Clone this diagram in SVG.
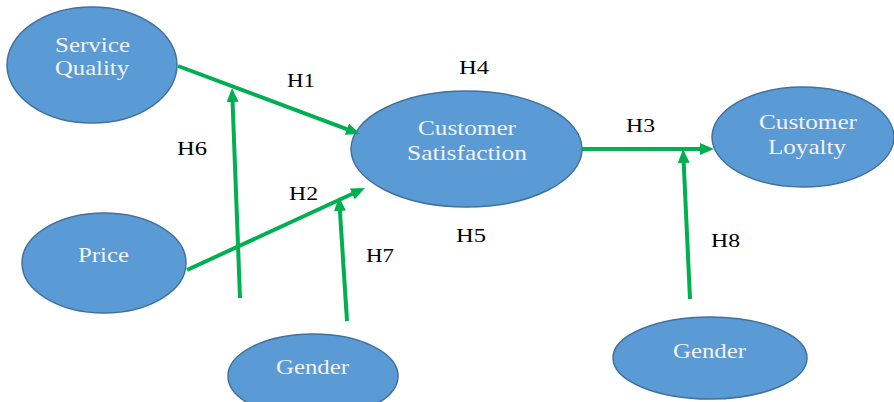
<svg xmlns="http://www.w3.org/2000/svg" width="894" height="402" viewBox="0 0 894 402">
<style>
.node ellipse{fill:#5B9BD5;stroke:#41719C;stroke-width:1.5}
.node text{fill:#F2F2F2;font-family:"Liberation Serif","Times New Roman",serif;font-size:21px;text-anchor:middle}
.lbl{fill:#000;font-family:"Liberation Serif","Times New Roman",serif;font-size:19px}
.conn line{stroke:#00B050;stroke-width:4;marker-end:url(#ah)}
</style>
<defs>
<marker id="ah" markerUnits="userSpaceOnUse" markerWidth="14" markerHeight="12" refX="2" refY="6" orient="auto">
<path d="M0,0 L14,6 L0,12 z" fill="#00B050"/>
</marker>
</defs>
<rect width="894" height="402" fill="#fff"/>
<g id="n-service-quality" class="node">
<ellipse cx="92" cy="65" rx="85" ry="58"/>
<text x="92.5" y="52" textLength="75" lengthAdjust="spacingAndGlyphs">Service</text>
<text x="92" y="75" textLength="74" lengthAdjust="spacingAndGlyphs">Quality</text>
</g>
<g id="n-satisfaction" class="node">
<ellipse cx="466.5" cy="149" rx="115.5" ry="58"/>
<text x="467" y="135" textLength="98" lengthAdjust="spacingAndGlyphs">Customer</text>
<text x="467" y="160" textLength="120" lengthAdjust="spacingAndGlyphs">Satisfaction</text>
</g>
<g id="n-price" class="node">
<ellipse cx="104" cy="263" rx="82" ry="50"/>
<text x="103.5" y="262" textLength="51" lengthAdjust="spacingAndGlyphs">Price</text>
</g>
<g id="n-gender1" class="node">
<ellipse cx="313" cy="376" rx="85" ry="42"/>
<text x="312.5" y="374" textLength="73" lengthAdjust="spacingAndGlyphs">Gender</text>
</g>
<g id="n-loyalty" class="node">
<ellipse cx="803" cy="137" rx="91" ry="50"/>
<text x="808" y="129" textLength="98" lengthAdjust="spacingAndGlyphs">Customer</text>
<text x="807" y="154" textLength="78" lengthAdjust="spacingAndGlyphs">Loyalty</text>
</g>
<g id="n-gender2" class="node">
<ellipse cx="710" cy="358" rx="97" ry="41"/>
<text x="709.5" y="358" textLength="73" lengthAdjust="spacingAndGlyphs">Gender</text>
</g>
<g id="connectors" class="conn">
<line x1="178" y1="66" x2="348.8" y2="129.8"/>
<line x1="240" y1="298" x2="232.5" y2="100"/>
<line x1="187" y1="270" x2="354.1" y2="193"/>
<line x1="347" y1="321" x2="339.8" y2="209"/>
<line x1="582" y1="149" x2="702" y2="149"/>
<line x1="690" y1="299" x2="683.6" y2="161"/>
</g>
<g id="labels">
<text class="lbl" x="287" y="87" textLength="28" lengthAdjust="spacingAndGlyphs">H1</text>
<text class="lbl" x="289" y="200" textLength="29" lengthAdjust="spacingAndGlyphs">H2</text>
<text class="lbl" x="626" y="132" textLength="29" lengthAdjust="spacingAndGlyphs">H3</text>
<text class="lbl" x="459" y="74" textLength="30" lengthAdjust="spacingAndGlyphs">H4</text>
<text class="lbl" x="456" y="242" textLength="30" lengthAdjust="spacingAndGlyphs">H5</text>
<text class="lbl" x="177" y="155" textLength="30" lengthAdjust="spacingAndGlyphs">H6</text>
<text class="lbl" x="366" y="262" textLength="28" lengthAdjust="spacingAndGlyphs">H7</text>
<text class="lbl" x="711" y="247" textLength="29" lengthAdjust="spacingAndGlyphs">H8</text>
</g>
</svg>
